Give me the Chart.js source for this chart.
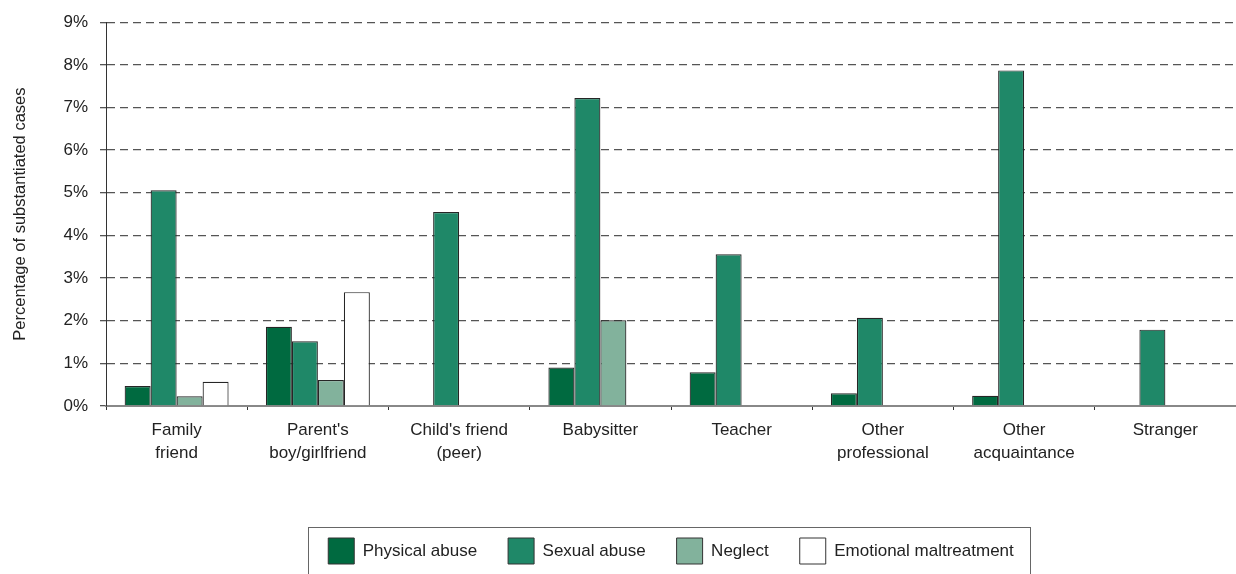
<!DOCTYPE html>
<html>
<head>
<meta charset="utf-8">
<script src="https://cdn.jsdelivr.net/npm/chart.js@4"></script>
<style>
html,body{margin:0;padding:0;background:#fff;}
#wrap{width:1236px;height:574px;position:relative;}
</style>
</head>
<body>
<div id="wrap"><canvas id="c" width="1236" height="574"></canvas></div>
<script>
const categories = [["Family","friend"],["Parent's","boy/girlfriend"],["Child's friend","(peer)"],["Babysitter"],["Teacher"],["Other","professional"],["Other","acquaintance"],["Stranger"]];
const physicalAbuse = [0.47, 1.86, null, 0.90, 0.79, 0.30, 0.24, null];
const sexualAbuse   = [5.06, 1.52, 4.55, 7.22, 3.56, 2.07, 7.87, 1.79];
const neglect       = [0.23, 0.61, null, 2.01, null, null, null, null];
const emotional     = [0.57, 2.67, null, null, null, null, null, null];
const yTicks = [0,1,2,3,4,5,6,7,8,9];

const FONT = "'Liberation Sans', Arial, sans-serif";

// Centre the legend under the plot area (as in the reference) and frame it
const legendBox = {
  id: 'legendBox',
  beforeDraw(chart) {
    const lg = chart.legend;
    if (!lg) return;
    const ca = chart.chartArea;
    const shift = Math.round((ca.left + ca.right) / 2 - (lg.left + lg.right) / 2);
    if (shift !== 0) {
      lg.left += shift; lg.right += shift;
      (lg.legendHitBoxes || []).forEach(h => { h.left += shift; });
    }
  },
  afterDraw(chart) {
    const hb = chart.legend.legendHitBoxes;
    if (!hb || !hb.length) return;
    let l = Infinity, r = -Infinity, t = Infinity;
    hb.forEach(h => { l = Math.min(l, h.left); r = Math.max(r, h.left + h.width); t = Math.min(t, h.top); });
    const ctx = chart.ctx;
    ctx.save();
    ctx.strokeStyle = '#666';
    ctx.lineWidth = 1;
    ctx.strokeRect(Math.round(l - 20) + 0.5, Math.round(t - 11) + 0.5, Math.round(r - l + 36), 80);
    ctx.restore();
  }
};

const ds = (label, data, color) => ({
  label, data, backgroundColor: color, borderColor: '#262626', borderWidth: 1.2,
  barPercentage: 1.0, categoryPercentage: 0.736
});

new Chart(document.getElementById('c'), {
  type: 'bar',
  data: {
    labels: categories,
    datasets: [
      ds('Physical abuse', physicalAbuse, '#006A40'),
      ds('Sexual abuse', sexualAbuse, '#1F8868'),
      ds('Neglect', neglect, '#82B29C'),
      ds('Emotional maltreatment', emotional, '#FFFFFF')
    ]
  },
  options: {
    responsive: false,
    animation: false,
    devicePixelRatio: 1,
    layout: { padding: { top: 19, right: 0, left: 0, bottom: 0 } },
    plugins: {
      tooltip: { enabled: false },
      legend: {
        position: 'bottom',
        labels: {
          boxWidth: 26, boxHeight: 26, padding: 31,
          color: '#222',
          font: { family: FONT, size: 17 },
          generateLabels(chart) {
            return chart.data.datasets.map((d, i) => ({
              text: d.label, fillStyle: d.backgroundColor, strokeStyle: '#333', lineWidth: 1,
              hidden: false, datasetIndex: i, fontColor: '#222'
            }));
          }
        }
      }
    },
    scales: {
      x: {
        afterFit(scale) { scale.height = 101; },
        grid: { display: true, drawOnChartArea: false, tickLength: 4, color: '#333', offset: true },
        border: { display: true, color: '#888', width: 2 },
        ticks: { color: '#222', font: { family: FONT, size: 17, lineHeight: 1.35 }, padding: 9, maxRotation: 0, autoSkip: false }
      },
      y: {
        min: 0, max: 9,
        afterFit(scale) { scale.width = 106; },
        afterBuildTicks(scale) { scale.ticks = yTicks.map(v => ({ value: v })); },
        title: { display: true, text: 'Percentage of substantiated cases', color: '#222', font: { family: FONT, size: 16.5 }, padding: { top: 11, bottom: 0 } },
        grid: { color: '#555', lineWidth: 1.3, tickLength: 6, drawTicks: true },
        border: { display: true, color: '#333', width: 1, dash: [8, 5] },
        ticks: { color: '#222', font: { family: FONT, size: 17 }, padding: 12, callback: v => v + '%' }
      }
    }
  },
  plugins: [legendBox]
});
</script>
</body>
</html>
